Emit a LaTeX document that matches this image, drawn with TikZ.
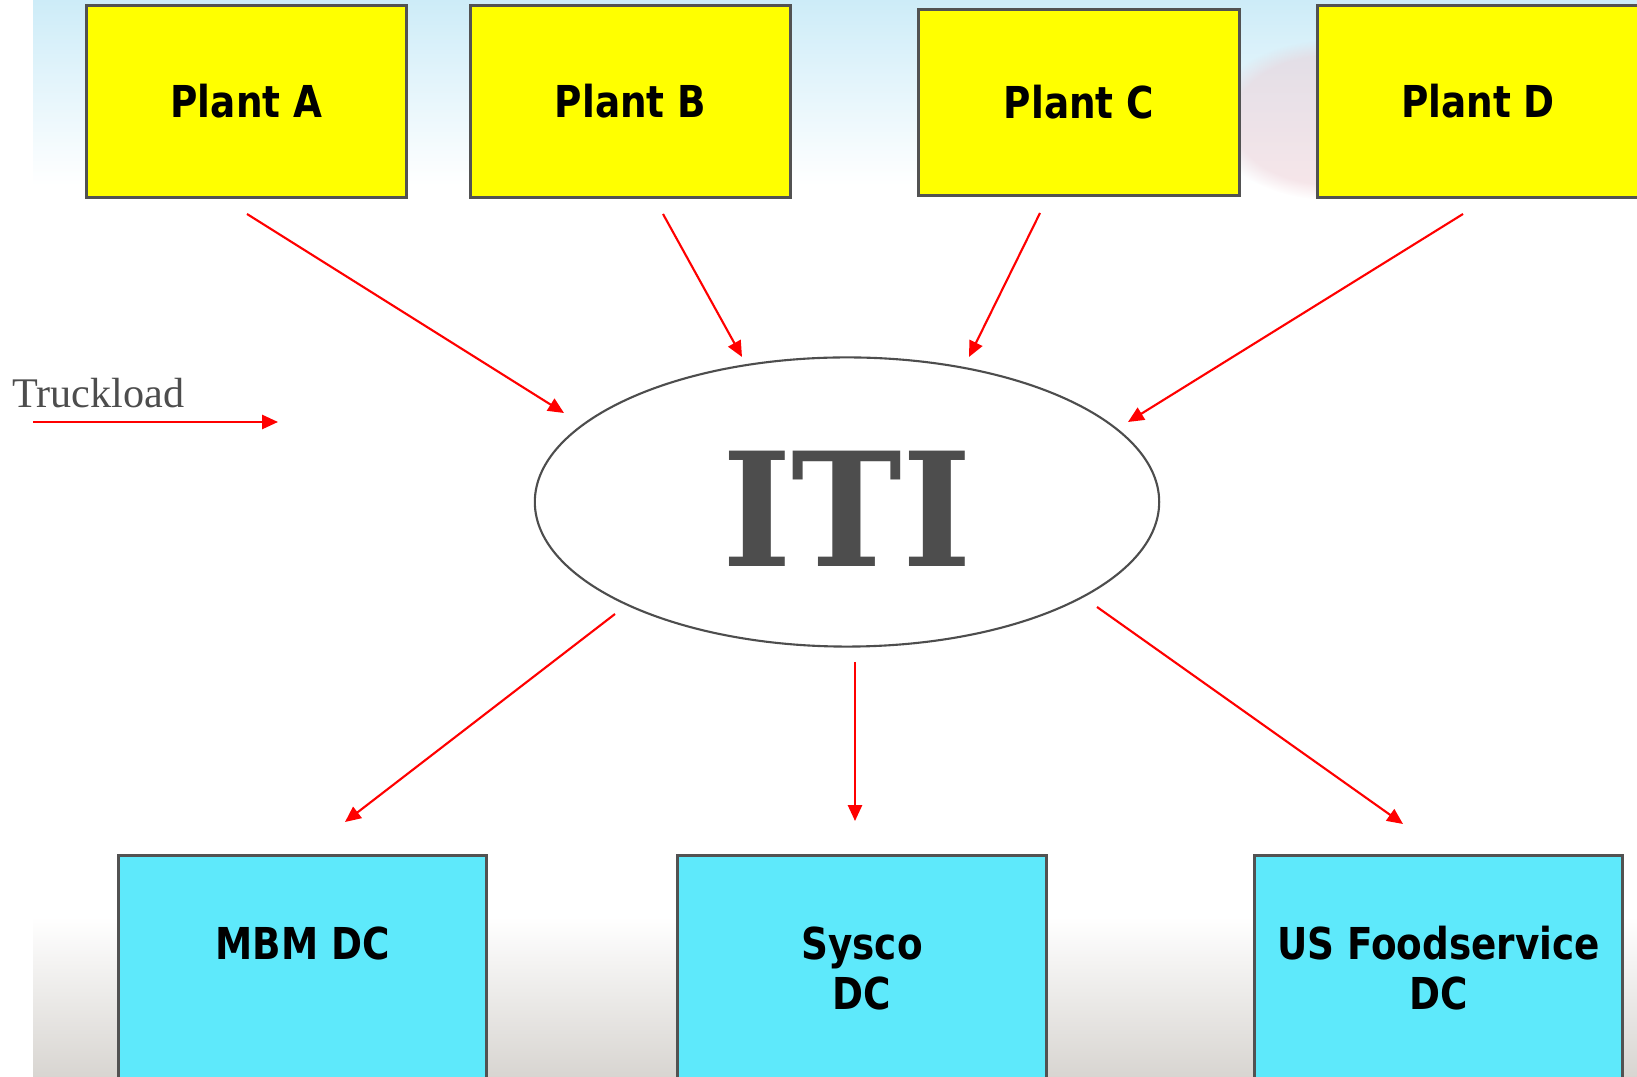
\documentclass[tikz,border=0pt]{standalone}
\usepackage{fontspec}
\usepackage{tikz}
\usepackage{xcolor}
\usetikzlibrary{arrows.meta, shapes.geometric, fadings}

\newfontfamily\boxfont[FakeStretch=0.85]{DejaVu Sans}
\newfontfamily\hubfont[FakeStretch=0.94]{DejaVu Serif}
\newfontfamily\legendfont{Liberation Serif}

\definecolor{plantyellow}{RGB}{255,255,0}
\definecolor{dccyan}{RGB}{94,233,251}
\definecolor{edgegray}{RGB}{82,82,82}
\definecolor{itigray}{RGB}{77,77,77}
\definecolor{skyblue}{RGB}{205,236,248}
\definecolor{skypink}{RGB}{236,200,208}
\definecolor{floorgray}{RGB}{216,213,209}

\begin{document}
\begin{tikzpicture}[x=0.01cm, y=-0.01cm, line width=0.85pt,
  plant/.style={draw=edgegray, fill=plantyellow, minimum width=3.2cm, minimum height=1.91cm,
    font=\boxfont\bfseries\fontsize{12.5}{15}\selectfont},
  dc/.style={draw=edgegray, fill=dccyan, anchor=north, minimum width=3.68cm, inner ysep=0pt,
    text height=1.04cm, text depth=1.5cm, align=center,
    font=\boxfont\bfseries\fontsize{12.5}{14.2}\selectfont},
  dctwo/.style={dc, text height=1.54cm, text depth=1.0cm},
  ship/.style={draw=red, line width=0.6pt, -{Triangle[length=4.5pt, width=4pt]}}]
  \useasboundingbox (0,0) rectangle (1637,1077);
  % background: sky at the top, floor at the bottom
  \shade[top color=skyblue, bottom color=white] (33,0) rectangle (1637,185);
  \fill[skypink, opacity=0.45, path fading=circle with fuzzy edge 20 percent] (1330,120) ellipse (120 and 80);
  \shade[top color=white, bottom color=floorgray] (33,917) rectangle (1637,1077);
  % plants
  \node[plant] (plantA) at (246.5,101.5) {Plant A};
  \node[plant] (plantB) at (630.5,101.5) {Plant B};
  \node[plant, minimum height=1.85cm] (plantC) at (1079,102.5) {Plant C};
  \node[plant] (plantD) at (1478,101.5) {Plant D};
  % ITI hub
  \node[ellipse, draw=itigray, line width=0.6pt, fill=white, minimum width=6.24cm, minimum height=2.89cm] (iti) at (847,502) {};
  \node[text=itigray, font=\hubfont\bfseries\fontsize{45}{50}\selectfont] (itilabel) at (847,509) {ITI};
  % distribution centres
  \node[dc] (mbm) at (302.75,854) {MBM DC};
  \node[dctwo] (sysco) at (862,854) {Sysco\\DC};
  \node[dctwo] (usf) at (1438.5,854) {US Foodservice\\DC};
  % arrow ends
  \coordinate (a-out) at (247,214);  \coordinate (a-in) at (564,413);
  \coordinate (b-out) at (663,214);  \coordinate (b-in) at (742,357);
  \coordinate (c-out) at (1040,213); \coordinate (c-in) at (969,357);
  \coordinate (d-out) at (1463,214); \coordinate (d-in) at (1128,422);
  \coordinate (mbm-out) at (615,614);   \coordinate (mbm-in) at (345,822);
  \coordinate (sysco-out) at (855,662); \coordinate (sysco-in) at (855,821);
  \coordinate (usf-out) at (1097,607);  \coordinate (usf-in) at (1403,824);
  \draw[ship] (a-out) -- (a-in);
  \draw[ship] (b-out) -- (b-in);
  \draw[ship] (c-out) -- (c-in);
  \draw[ship] (d-out) -- (d-in);
  \draw[ship] (mbm-out) -- (mbm-in);
  \draw[ship] (sysco-out) -- (sysco-in);
  \draw[ship] (usf-out) -- (usf-in);
  % legend
  \node[anchor=base west, inner sep=0pt, text=itigray, font=\legendfont\fontsize{12}{14}\selectfont]
    (truckload) at (11,408) {Truckload};
  \coordinate (leg-start) at (33,422);
  \coordinate (leg-end) at (278,422);
  \draw[ship] (leg-start) -- (leg-end);
\end{tikzpicture}
\end{document}
